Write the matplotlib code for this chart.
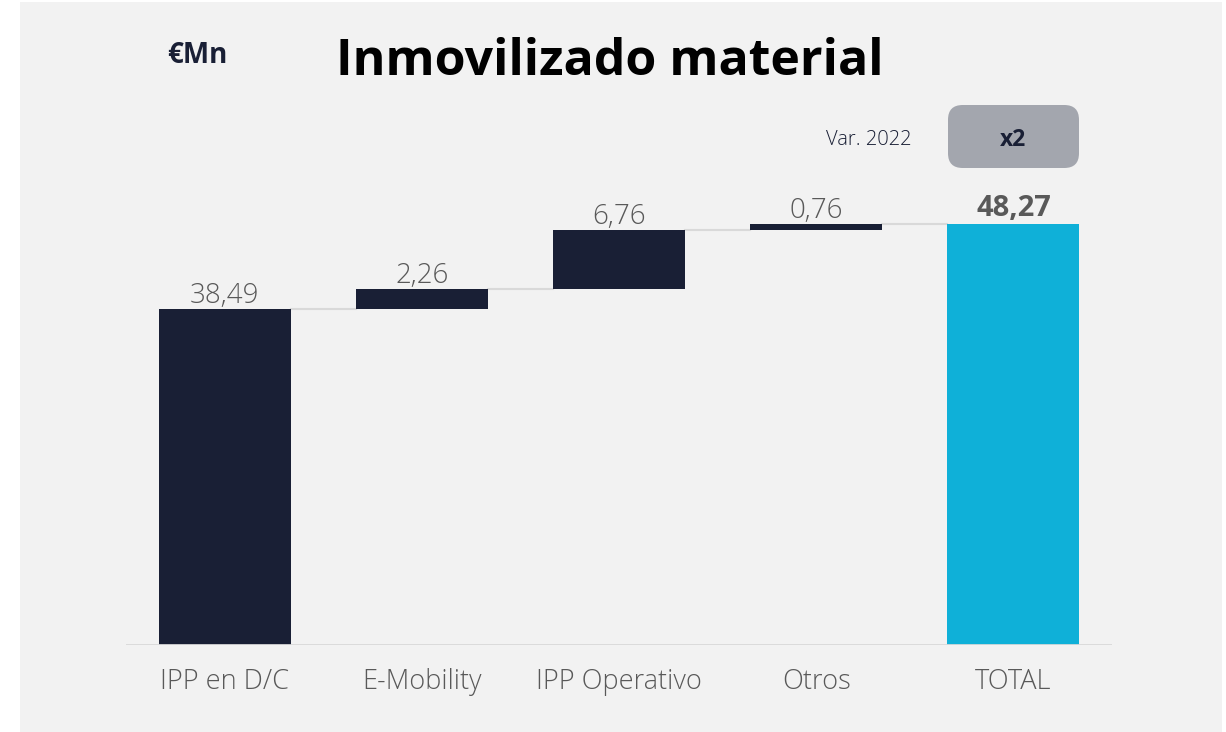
import numpy as np
import matplotlib.pyplot as plt
from matplotlib.patches import FancyBboxPatch, Rectangle

categories = ['IPP en D/C', 'E-Mobility', 'IPP Operativo', 'Otros', 'TOTAL']
values = [38.49, 2.26, 6.76, 0.76]
total = 48.27
labels = ['38,49', '2,26', '6,76', '0,76', '48,27']

navy = '#191f35'
cyan = '#0fb0d8'
grey_txt = '#595959'
bg = '#f2f2f2'
font = 'Open Sans'

W, H = 1226, 732
fig = plt.figure(figsize=(W / 100, H / 100), dpi=100)
fig.patch.set_facecolor('white')
fig.add_artist(Rectangle((20 / W, 0), 1202 / W, 730 / H, transform=fig.transFigure,
                         facecolor=bg, edgecolor='none', zorder=0))

ax = fig.add_axes([126 / W, (H - 645) / H, (1112 - 126) / W, (645 - 100) / H])
ax.set_facecolor('none')
ax.set_xlim(-0.5, 4.5)
ax.set_ylim(0, 545 / 8.73)

x = np.arange(len(categories))
w = 0.67
bottoms = np.concatenate([[0], np.cumsum(values)[:-1]])
ax.bar(x[:4], values, bottom=bottoms, width=w, color=navy, zorder=3)
ax.bar(x[4], total, width=w, color=cyan, zorder=3)

# connectors
tops = np.cumsum(values)
for i in range(4):
    ax.plot([x[i] + w / 2, x[i + 1] - w / 2], [tops[i], tops[i]], color='#d9d9d9', lw=1.5, zorder=2)

for i in range(4):
    ax.annotate(labels[i], (x[i], tops[i]), xytext=(0, 4.3), textcoords='offset points',
                ha='center', va='baseline', fontsize=20, color=grey_txt, family=font,
                fontweight='light')
ax.annotate(labels[4], (x[4], total), xytext=(0, 5.8), textcoords='offset points',
            ha='center', va='baseline', fontsize=21, color=grey_txt, family=font, fontweight='bold')

ax.axhline(0, color='#d9d9d9', lw=2, zorder=4)
for s in ax.spines.values():
    s.set_visible(False)
ax.set_yticks([])
ax.set_xticks(x)
ax.set_xticklabels(categories, fontsize=19.5, color=grey_txt, family=font, fontweight='light')
ax.tick_params(axis='x', length=0, pad=31.7)
for lbl in ax.get_xticklabels():
    lbl.set_va('baseline')

fig.text(610 / W, 1 - 75 / H, 'Inmovilizado material', ha='center', va='baseline',
         fontsize=36, fontweight='bold', color='black', family=font)
fig.text(197 / W, 1 - 63 / H, '€Mn', ha='center', va='baseline',
         fontsize=20, fontweight='bold', color=navy, family=font)
fig.text(869 / W, 1 - 145 / H, 'Var. 2022', ha='center', va='baseline',
         fontsize=14.5, color=navy, family=font, fontweight='light')
box = FancyBboxPatch((948 / W, 1 - 168 / H), 131 / W, 63 / H,
                     boxstyle='round,pad=0,rounding_size=0.012', transform=fig.transFigure,
                     facecolor='#a3a6ae', edgecolor='none', mutation_aspect=W / H)
fig.add_artist(box)
fig.text(1013 / W, 1 - 146 / H, 'x2', ha='center', va='baseline',
         fontsize=16.5, fontweight='bold', color=navy, family=font)

fig.savefig('out.png', dpi=100, facecolor=fig.get_facecolor())
